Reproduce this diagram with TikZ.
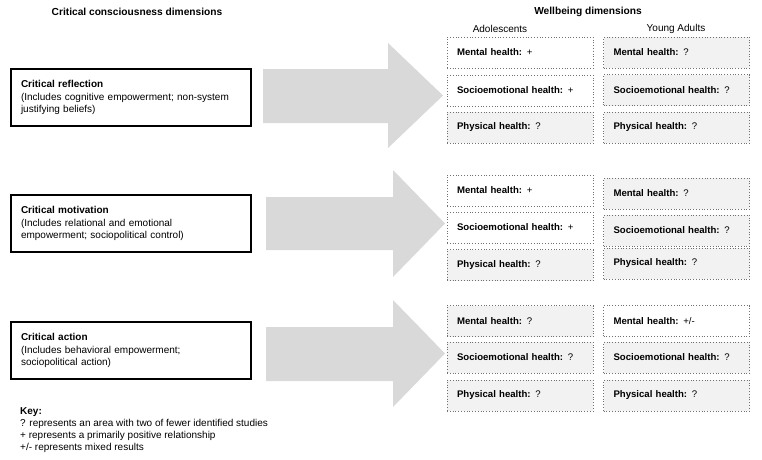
\documentclass[tikz,border=0pt]{standalone}
\usepackage{fontspec}
\setmainfont{Liberation Sans}
\definecolor{arrowgray}{HTML}{D9D9D9}
\definecolor{boxgray}{HTML}{F2F2F2}
\definecolor{dotgray}{HTML}{707070}
\begin{document}
\begin{tikzpicture}[x=1pt,y=-1pt,
  headtext/.style={font=\fontsize{10.2}{12}\selectfont\bfseries, inner sep=0pt},
  subtext/.style={font=\fontsize{10}{12}\selectfont, inner sep=0pt},
  ccbox/.style={draw=black, line width=1.8pt, fill=white, minimum height=57pt, text width=220pt, inner xsep=10pt, inner ysep=0pt, align=left, font=\fontsize{10}{12.5}\selectfont},
  wbbox/.style={draw=dotgray, dotted, line width=0.8pt, minimum height=31pt, text width=126pt, inner xsep=10pt, inner ysep=0pt, align=left, font=\fontsize{9.6}{11}\selectfont},
  posbox/.style={wbbox, fill=white},
  unkbox/.style={wbbox, fill=boxgray},
  blockarrow/.style={fill=arrowgray, draw=none},
  keytext/.style={font=\fontsize{10}{12}\selectfont, align=left, inner sep=0pt, anchor=north west}
]
\useasboundingbox (0,0) rectangle (762,459);
\fill[white] (0,0) rectangle (762,459);

% headers
\node[headtext] (hcc) at (137,12) {Critical consciousness dimensions};
\node[headtext] (hwb) at (588,12) {Wellbeing dimensions};
\node[subtext] (hado) at (500,29) {Adolescents};
\node[subtext] (hya) at (676,29) {Young Adults};

% block arrows
\fill[blockarrow] (263,69) -- (388,69) -- (388,43) -- (443,95.5) -- (388,148) -- (388,123) -- (263,123) -- cycle;
\fill[blockarrow] (266,197) -- (393,197) -- (393,170) -- (445,223.5) -- (393,277) -- (393,250) -- (266,250) -- cycle;
\fill[blockarrow] (266,327) -- (393,327) -- (393,300) -- (445,353.5) -- (393,407) -- (393,381) -- (266,381) -- cycle;

% critical consciousness boxes
\node[ccbox] (cr) at (131,97.5) {\textbf{Critical reflection}\\(Includes cognitive empowerment; non-system\\justifying beliefs)};
\node[ccbox] (cm) at (131,223.5) {\textbf{Critical motivation}\\(Includes relational and emotional\\empowerment; sociopolitical control)};
\node[ccbox] (ca) at (131,350.5) {\textbf{Critical action}\\(Includes behavioral empowerment;\\sociopolitical action)};

% group 1
\node[posbox] (a1m) at (520,52.5) {\textbf{Mental health:} +};
\node[posbox] (a1s) at (520,90.5) {\textbf{Socioemotional health:} +};
\node[unkbox] (a1p) at (520,127.5) {\textbf{Physical health:} ?};
\node[unkbox] (y1m) at (676.5,52.5) {\textbf{Mental health:} ?};
\node[unkbox] (y1s) at (676.5,90) {\textbf{Socioemotional health:} ?};
\node[unkbox] (y1p) at (676.5,127.5) {\textbf{Physical health:} ?};

% group 2
\node[posbox] (a2m) at (520,190.5) {\textbf{Mental health:} +};
\node[posbox] (a2s) at (520,227.5) {\textbf{Socioemotional health:} +};
\node[unkbox] (a2p) at (520,265) {\textbf{Physical health:} ?};
\node[unkbox] (y2m) at (676.5,193.5) {\textbf{Mental health:} ?};
\node[unkbox] (y2s) at (676.5,230.5) {\textbf{Socioemotional health:} ?};
\node[unkbox] (y2p) at (676.5,263.5) {\textbf{Physical health:} ?};

% group 3
\node[unkbox] (a3m) at (520,321) {\textbf{Mental health:} ?};
\node[unkbox] (a3s) at (520,357.5) {\textbf{Socioemotional health:} ?};
\node[unkbox] (a3p) at (520,395.5) {\textbf{Physical health:} ?};
\node[posbox] (y3m) at (676.5,321) {\textbf{Mental health:} +/-};
\node[unkbox] (y3s) at (676.5,357.5) {\textbf{Socioemotional health:} ?};
\node[unkbox] (y3p) at (676.5,395.5) {\textbf{Physical health:} ?};

% key
\node[keytext] (key) at (20,407.5) {\textbf{Key:}\\? represents an area with two of fewer identified studies\\+ represents a primarily positive relationship\\+/- represents mixed results};
\end{tikzpicture}
\end{document}
